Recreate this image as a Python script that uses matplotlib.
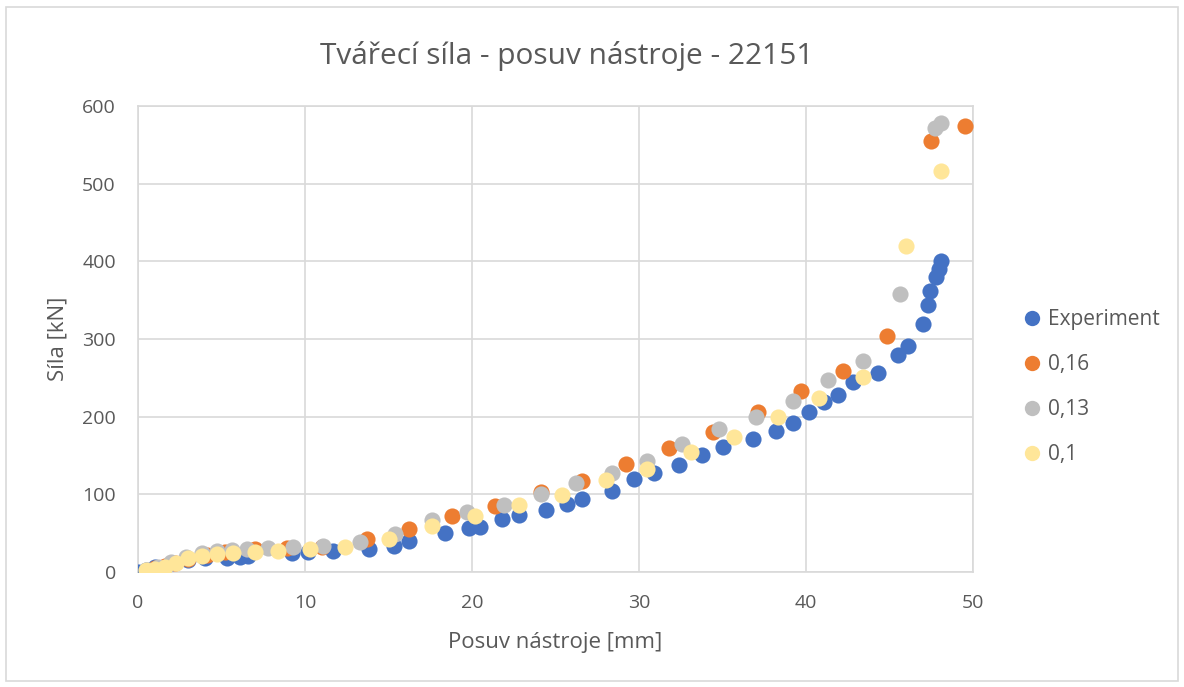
import matplotlib
matplotlib.use("Agg")
import matplotlib.pyplot as plt
from matplotlib.patches import Rectangle

plt.rcParams["font.family"] = ["Open Sans", "DejaVu Sans"]

TEXT_COLOR = "#595959"
GRID_COLOR = "#d9d9d9"

# posuv [mm], síla [kN]
exp_x = [0.0, 0.5, 1.0, 2.0, 3.0, 4.0, 5.3, 6.1, 6.6, 9.2, 10.2, 11.7, 13.8, 15.3, 16.2,
         18.4, 19.8, 20.5, 21.8, 22.8, 24.4, 25.7, 26.6, 28.4, 29.7, 30.9, 32.4, 33.8,
         35.0, 36.8, 38.2, 39.2, 40.2, 41.1, 41.9, 42.8, 44.3, 45.5, 46.1, 47.0, 47.3,
         47.4, 47.8, 47.95, 48.1]
exp_y = [0, 3, 6, 11, 15, 18, 18, 19, 21, 24, 26, 27, 30, 33, 40,
         50, 57, 58, 68, 73, 80, 88, 94, 104, 120, 128, 138, 150,
         161, 171, 182, 192, 206, 219, 228, 244, 256, 280, 291, 319, 344,
         362, 380, 390, 400]

s016_x = [1.0, 1.6, 2.2, 3.0, 4.1, 5.2, 7.0, 8.9, 11.0, 13.7, 16.2, 18.8, 21.4, 24.1,
          26.6, 29.2, 31.8, 34.4, 37.1, 39.7, 42.2, 44.85, 47.5, 49.5]
s016_y = [5, 8, 12, 17, 22, 26, 30, 31, 32, 43, 56, 72, 85, 103,
          117, 139, 160, 180, 206, 233, 259, 304, 555, 574]

s013_x = [0.6, 1.2, 2.0, 2.9, 3.8, 4.7, 5.6, 6.5, 7.8, 9.3, 11.1, 13.3, 15.4, 17.6,
          19.7, 21.9, 24.1, 26.2, 28.4, 30.5, 32.6, 34.8, 37.0, 39.2, 41.3, 43.4,
          45.6, 47.7, 48.1]
s013_y = [3, 6, 13, 19, 24, 27, 28, 30, 31, 32, 33, 39, 49, 67,
          77, 86, 101, 114, 127, 143, 165, 184, 200, 220, 247, 272,
          358, 572, 578]

s010_x = [0.5, 1.0, 1.6, 2.3, 3.0, 3.8, 4.7, 5.7, 7.0, 8.4, 10.3, 12.4, 15.0, 17.6,
          20.2, 22.8, 25.4, 28.0, 30.5, 33.1, 35.7, 38.3, 40.8, 43.4, 46.0, 48.1]
s010_y = [2, 4, 7, 12, 18, 21, 23, 25, 26, 27, 30, 32, 43, 59,
          72, 86, 99, 118, 132, 154, 174, 200, 224, 251, 420, 516]

series = [
    ("Experiment", exp_x, exp_y, "#4472c4"),
    ("0,16", s016_x, s016_y, "#ed7d31"),
    ("0,13", s013_x, s013_y, "#bfbfbf"),
    ("0,1", s010_x, s010_y, "#ffe699"),
]

fig = plt.figure(figsize=(11.84, 6.87), dpi=100)
ax = fig.add_axes([0.1166, 0.1674, 0.7052, 0.6783])

# outer chart frame
fig.patches.append(Rectangle((6 / 1184, 6 / 687), 1172 / 1184, 674 / 687,
                             transform=fig.transFigure, fill=False,
                             edgecolor=GRID_COLOR, linewidth=1.2))

for label, xs, ys, color in series:
    ax.scatter(xs, ys, s=135, color=color, label=label, linewidths=0, zorder=3)

ax.set_xlim(0, 50)
ax.set_ylim(0, 600)
ax.set_xticks(range(0, 51, 10))
ax.set_yticks(range(0, 601, 100))
ax.grid(True, color=GRID_COLOR, linewidth=1.2)
ax.set_axisbelow(True)
for spine in ax.spines.values():
    spine.set_color(GRID_COLOR)
    spine.set_linewidth(1.2)
ax.tick_params(length=0, colors=TEXT_COLOR, labelsize=14)
ax.tick_params(axis="x", pad=16)
ax.tick_params(axis="y", pad=16)

ax.set_title("Tvářecí síla - posuv nástroje - 22151", fontsize=21.5,
             color=TEXT_COLOR, pad=30, x=0.514)
ax.set_xlabel("Posuv nástroje [mm]", fontsize=16, color=TEXT_COLOR, labelpad=14)
ax.set_ylabel("Síla [kN]", fontsize=16, color=TEXT_COLOR, labelpad=10)

ax.legend(loc="center left", bbox_to_anchor=(1.046, 0.397), frameon=False,
          fontsize=15, labelcolor=TEXT_COLOR, markerscale=0.95,
          borderpad=0, handlelength=1.0, handletextpad=0.25,
          labelspacing=1.15, scatteryoffsets=[0.5])

fig.savefig("out.png", dpi=100, facecolor="white")
